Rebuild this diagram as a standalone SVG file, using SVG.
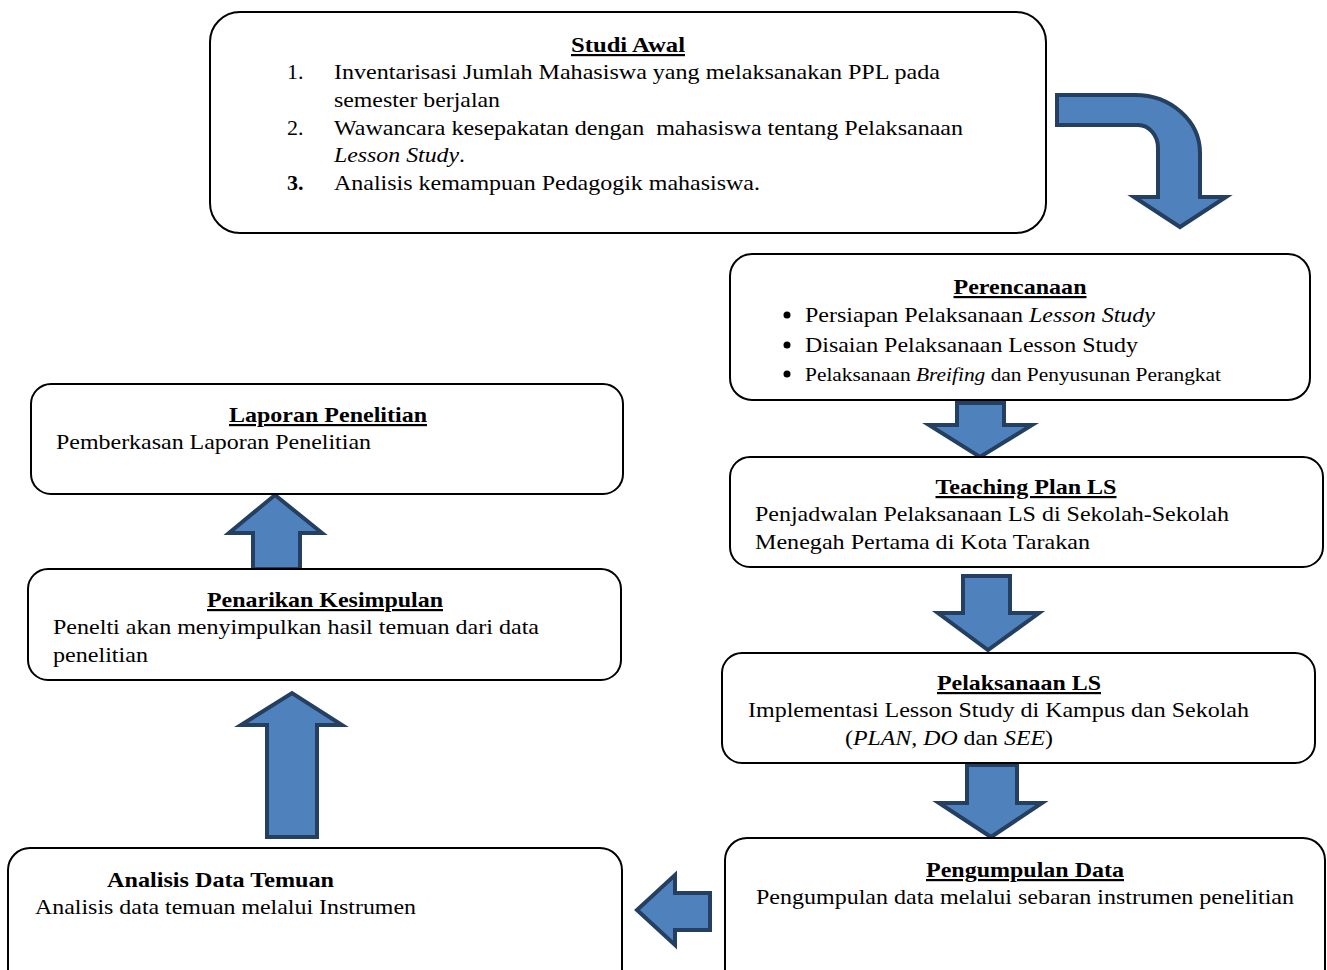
<svg xmlns="http://www.w3.org/2000/svg" width="1327" height="970" viewBox="0 0 1327 970">
<defs>
<style>
.box{fill:#fff;stroke:#000;stroke-width:2}
.arr{fill:#4f81bd;stroke:#243f60;stroke-width:4;stroke-linejoin:miter}
text{font-family:"Liberation Serif","Times New Roman",serif;font-size:22px;fill:#000}
.t{font-weight:bold;text-decoration:underline;text-anchor:middle}
.b{font-weight:bold}
.i{font-style:italic}
</style>
</defs>
<rect width="1327" height="970" fill="#fff"/>
<g id="connectors">
<path class="arr" d="M1057,95 L1135,95 A65,58 0 0 1 1200,153 L1200,197 L1226,197 L1180,227 L1134,197 L1158,197 L1158,148 A20,23 0 0 0 1138,125 L1057,125 Z"/>
<path class="arr" d="M957,403 L1004,403 L1004,425 L1032,425 L980,457 L929,425 L957,425 Z"/>
<path class="arr" d="M963,576 L1010,576 L1010,613 L1039,613 L988,650 L938,613 L963,613 Z"/>
<path class="arr" d="M967,765 L1017,765 L1017,803 L1042,803 L991,837 L939,803 L967,803 Z"/>
<path class="arr" d="M710,893 L710,930 L675,930 L675,945 L637,910 L675,875 L675,893 Z"/>
<path class="arr" d="M253,569 L300,569 L300,533 L322,533 L275,495 L229,533 L253,533 Z"/>
<path class="arr" d="M267,837 L317,837 L317,725 L342,725 L292,693 L241,725 L267,725 Z"/>
</g>
<g id="studi-awal">
<rect class="box" x="210" y="12" width="836" height="221" rx="30"/>
<text class="t" x="628" y="52" textLength="114" lengthAdjust="spacingAndGlyphs">Studi Awal</text>
<text x="287" y="79">1.</text>
<text x="334" y="79" textLength="606" lengthAdjust="spacingAndGlyphs">Inventarisasi Jumlah Mahasiswa yang melaksanakan PPL pada</text>
<text x="334" y="107" textLength="166" lengthAdjust="spacingAndGlyphs">semester berjalan</text>
<text x="287" y="135">2.</text>
<text x="334" y="135" textLength="629" lengthAdjust="spacingAndGlyphs" xml:space="preserve">Wawancara kesepakatan dengan  mahasiswa tentang Pelaksanaan</text>
<text x="334" y="162" textLength="131" lengthAdjust="spacingAndGlyphs"><tspan class="i">Lesson Study</tspan>.</text>
<text x="287" y="190" class="b">3.</text>
<text x="334" y="190" textLength="426" lengthAdjust="spacingAndGlyphs">Analisis kemampuan Pedagogik mahasiswa.</text>
</g>
<g id="perencanaan">
<rect class="box" x="730" y="254" width="580" height="146" rx="22"/>
<text class="t" x="1020" y="294" textLength="133" lengthAdjust="spacingAndGlyphs">Perencanaan</text>
<circle cx="787" cy="315" r="3.5"/>
<circle cx="787" cy="345" r="3.5"/>
<circle cx="787" cy="374" r="3.5"/>
<text x="805" y="322" textLength="350" lengthAdjust="spacingAndGlyphs">Persiapan Pelaksanaan <tspan class="i">Lesson Study</tspan></text>
<text x="805" y="352" textLength="333" lengthAdjust="spacingAndGlyphs">Disaian Pelaksanaan Lesson Study</text>
<text x="805" y="381" style="font-size:18px" textLength="416" lengthAdjust="spacingAndGlyphs">Pelaksanaan <tspan class="i">Breifing</tspan> dan Penyusunan Perangkat</text>
</g>
<g id="teaching-plan">
<rect class="box" x="730" y="457" width="593" height="110" rx="20"/>
<text class="t" x="1026" y="494" textLength="181" lengthAdjust="spacingAndGlyphs">Teaching Plan LS</text>
<text x="755" y="521" textLength="474" lengthAdjust="spacingAndGlyphs">Penjadwalan Pelaksanaan LS di Sekolah-Sekolah</text>
<text x="755" y="549" textLength="335" lengthAdjust="spacingAndGlyphs">Menegah Pertama di Kota Tarakan</text>
</g>
<g id="pelaksanaan">
<rect class="box" x="722" y="653" width="593" height="110" rx="20"/>
<text class="t" x="1019" y="690" textLength="164" lengthAdjust="spacingAndGlyphs">Pelaksanaan LS</text>
<text x="748" y="717" textLength="501" lengthAdjust="spacingAndGlyphs">Implementasi Lesson Study di Kampus dan Sekolah</text>
<text x="845" y="745" textLength="208" lengthAdjust="spacingAndGlyphs">(<tspan class="i">PLAN, DO</tspan> dan <tspan class="i">SEE</tspan>)</text>
</g>
<g id="pengumpulan">
<rect class="box" x="725" y="838" width="600" height="160" rx="22"/>
<text class="t" x="1025" y="877" textLength="198" lengthAdjust="spacingAndGlyphs">Pengumpulan Data</text>
<text x="756" y="904" textLength="538" lengthAdjust="spacingAndGlyphs">Pengumpulan data melalui sebaran instrumen penelitian</text>
</g>
<g id="analisis">
<rect class="box" x="8" y="848" width="614" height="150" rx="22"/>
<text class="b" x="107" y="887" textLength="227" lengthAdjust="spacingAndGlyphs">Analisis Data Temuan</text>
<text x="35" y="914" textLength="381" lengthAdjust="spacingAndGlyphs">Analisis data temuan melalui Instrumen</text>
</g>
<g id="penarikan">
<rect class="box" x="28" y="569" width="593" height="111" rx="20"/>
<text class="t" x="325" y="607" textLength="236" lengthAdjust="spacingAndGlyphs">Penarikan Kesimpulan</text>
<text x="53" y="634" textLength="486" lengthAdjust="spacingAndGlyphs">Penelti akan menyimpulkan hasil temuan dari data</text>
<text x="53" y="662" textLength="95" lengthAdjust="spacingAndGlyphs">penelitian</text>
</g>
<g id="laporan">
<rect class="box" x="31" y="384" width="592" height="110" rx="20"/>
<text class="t" x="328" y="422" textLength="198" lengthAdjust="spacingAndGlyphs">Laporan Penelitian</text>
<text x="56" y="449" textLength="315" lengthAdjust="spacingAndGlyphs">Pemberkasan Laporan Penelitian</text>
</g>
</svg>
